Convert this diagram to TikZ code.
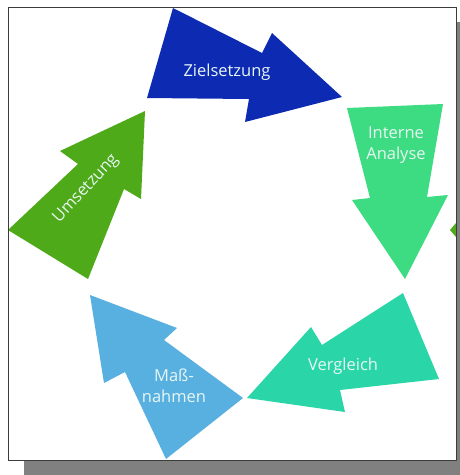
\documentclass[tikz,border=0pt]{standalone}
\usepackage{fontspec}
\setmainfont{Open Sans}
\definecolor{cZiel}{RGB}{12,42,178}
\definecolor{cAnal}{RGB}{62,220,130}
\definecolor{cVerg}{RGB}{42,214,168}
\definecolor{cMass}{RGB}{88,176,224}
\definecolor{cUms}{RGB}{78,170,24}
\definecolor{cShadow}{RGB}{128,128,128}
\definecolor{cFrame}{RGB}{60,60,60}
\definecolor{cText}{RGB}{232,246,244}
\begin{document}
\begin{tikzpicture}[x=1pt,y=-1pt,
  lbl/.style={text=cText,font=\fontsize{16.5}{20.5}\selectfont,align=center,inner sep=0pt}]
\useasboundingbox (0,0) rectangle (460,475);
% shadow and frame
\fill[cShadow] (24,22) rectangle (472,475);
\fill[white] (8,7) rectangle (456,460);
% Zielsetzung
\fill[cZiel] (147,98) -- (173,8) -- (262,53) -- (272,33) -- (342,97) -- (245,122) -- (249,99) -- cycle;
% Interne Analyse
\fill[cAnal] (347,108) -- (443,104) -- (427,197) -- (448,195) -- (405,279) -- (352,200) -- (370,198) -- cycle;
% Vergleich
\fill[cVerg] (403,293) -- (439,379) -- (340,390) -- (345,412) -- (247,398) -- (311,327) -- (322,345) -- cycle;
% Massnahmen
\fill[cMass] (90,295) -- (177,328) -- (164,340) -- (243,398) -- (166,459) -- (125,372) -- (104,383) -- cycle;
% Umsetzung
\fill[cUms] (145,111) -- (141,199) -- (124,189) -- (88,279) -- (8,230) -- (78,164) -- (60,151) -- cycle;
% small green tip at the right edge
\fill[cUms] (450,230) -- (456,223) -- (456,237) -- cycle;
\draw[cFrame,line width=0.8pt] (8,7) rectangle (456,460);
% labels
\node[lbl] (ziel) at (227,72) {Zielsetzung};
\node[lbl] (anal) at (396,145) {Interne\\Analyse};
\node[lbl] (verg) at (343,366) {Vergleich};
\node[lbl] (mass) at (174,386) {Maß-\\nahmen};
\node[lbl,rotate=47] (ums) at (86,189) {Umsetzung};
\end{tikzpicture}
\end{document}
